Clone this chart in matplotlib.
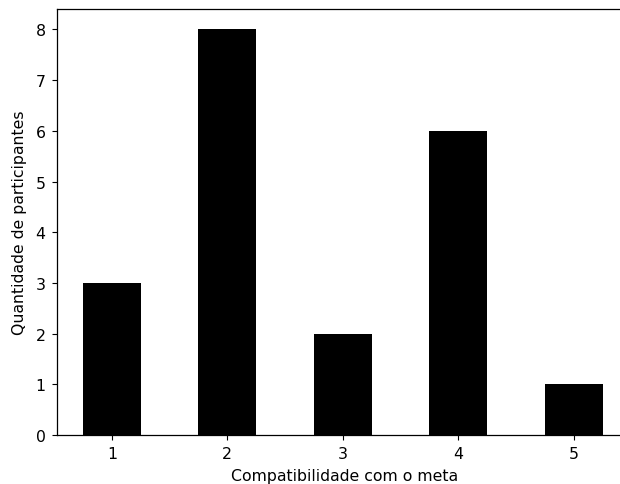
import matplotlib
matplotlib.use("Agg")
import matplotlib.pyplot as plt
import numpy as np

categorias = ["1", "2", "3", "4", "5"]
participantes = [3, 8, 2, 6, 1]

plt.rcParams["font.size"] = 11.3
plt.rcParams["xtick.major.pad"] = 4.5
plt.rcParams["ytick.major.pad"] = 4.5

fig = plt.figure(figsize=(6.2, 4.85), dpi=100)
ax = fig.add_axes([0.0915, 0.101, 0.927, 0.878])

pos = np.arange(len(categorias))
ax.bar(pos, participantes, width=0.5, color="black")
ax.set_xticks(pos)
ax.set_xticklabels(categorias, rotation=0)
ax.set_xlim(-0.477, len(categorias) - 0.5)
ax.set_ylim(0, max(participantes) * 1.05)
ax.set_xlabel("Compatibilidade com o meta", labelpad=5)
ax.set_ylabel("Quantidade de participantes", labelpad=6)
for s in ax.spines.values():
    s.set_linewidth(0.9)

fig.savefig("out.png", dpi=100)
